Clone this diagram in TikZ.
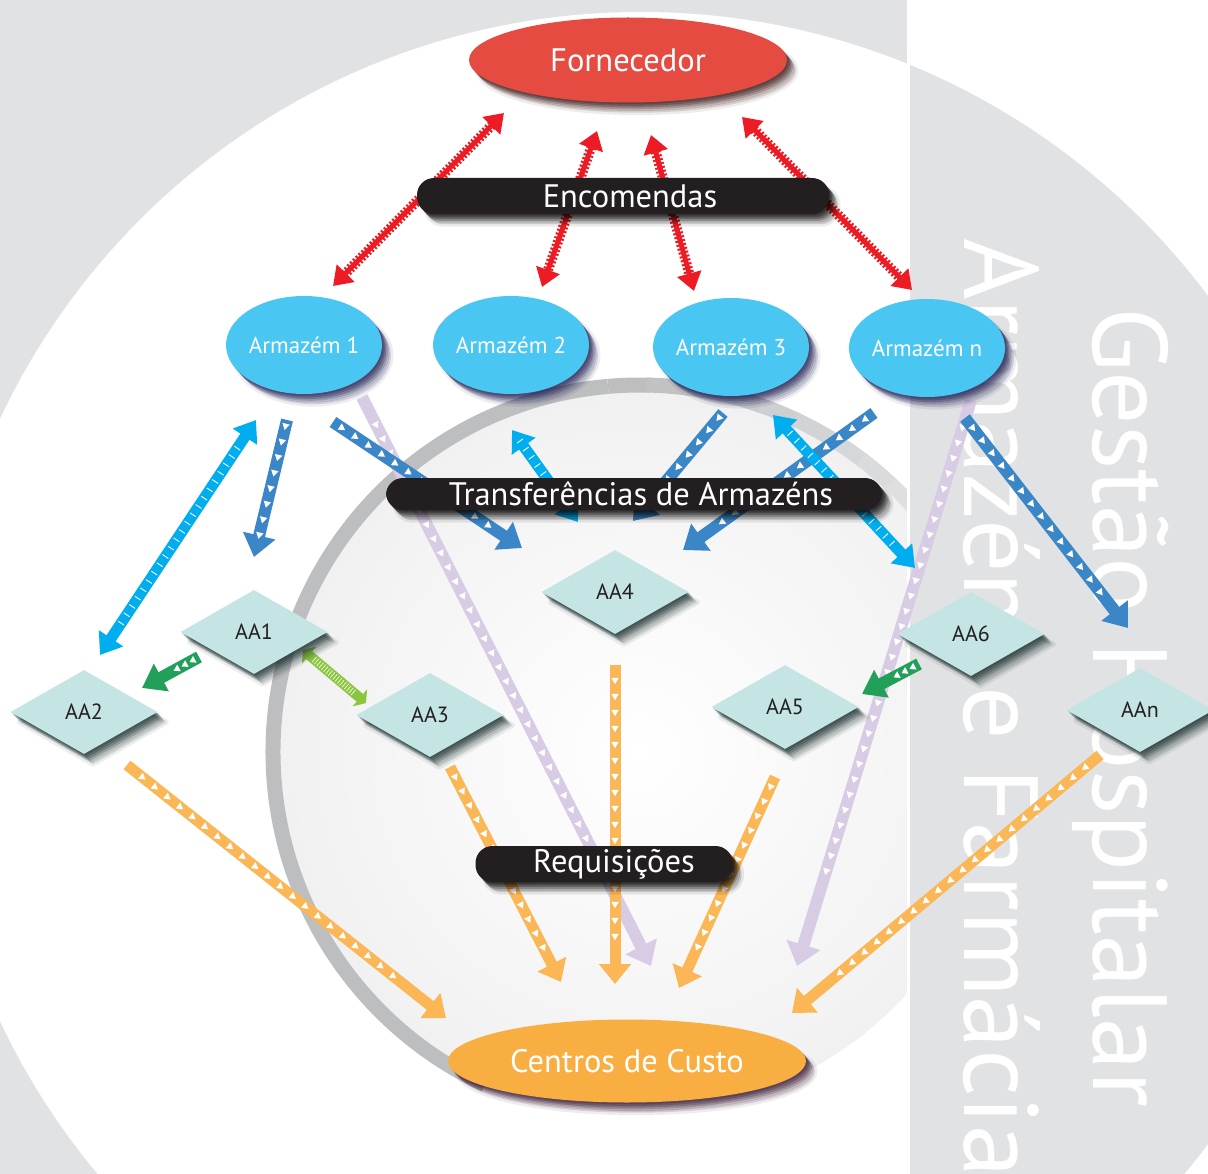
\documentclass[tikz,border=0pt]{standalone}
\usepackage{fontspec}
\setmainfont{PT Sans}
\usetikzlibrary{shapes.geometric,arrows.meta,decorations.markings}
\definecolor{bggray}{HTML}{E1E2E4}
\definecolor{fornred}{HTML}{E54B40}
\definecolor{armblue}{HTML}{4AC6F2}
\definecolor{barblack}{HTML}{231F20}
\definecolor{custoorange}{HTML}{F9AE41}
\definecolor{aateal}{HTML}{C5E5E5}
\definecolor{arrred}{HTML}{ED1C24}
\definecolor{arrcyan}{HTML}{00AEEF}
\definecolor{arrblue}{HTML}{3A86C6}
\definecolor{arrlav}{HTML}{D8CBE4}
\definecolor{arrorange}{HTML}{FBB655}
\definecolor{arrdgreen}{HTML}{21A05A}
\definecolor{arrlgreen}{HTML}{8CC63F}
\definecolor{ringgray}{HTML}{BCBEC0}
\definecolor{ringlight}{HTML}{F0F0F0}
\definecolor{innergray}{HTML}{F1F1F1}
\definecolor{navyshadow}{HTML}{1C1C50}
\definecolor{redshadow}{HTML}{361414}
\definecolor{purpleshadow}{HTML}{351630}
\definecolor{tealshadow}{HTML}{182C2C}
\tikzset{
  softshadow/.style={
    preaction={fill=#1, opacity=0.28, transform canvas={shift={(1.5pt,-1.7pt)}}},
    preaction={fill=#1, opacity=0.28, transform canvas={shift={(3pt,-3.4pt)}}},
    preaction={fill=#1, opacity=0.26, transform canvas={shift={(4.5pt,-5.1pt)}}},
    preaction={fill=#1, opacity=0.22, transform canvas={shift={(6pt,-6.8pt)}}},
    preaction={fill=#1, opacity=0.18, transform canvas={shift={(7.5pt,-8.5pt)}}},
    preaction={fill=#1, opacity=0.14, transform canvas={shift={(9pt,-10.2pt)}}},
    preaction={draw=#1, line width=5pt, line join=round, opacity=0.08, transform canvas={shift={(9pt,-10.2pt)}}}},
  softshadow/.default=black,
  fornode/.style={ellipse, fill=fornred, minimum width=318pt, minimum height=85pt, inner sep=0pt,
    text=white, font=\fontsize{32.5}{36}\selectfont, softshadow=redshadow},
  armnode/.style={ellipse, fill=armblue, minimum width=145pt, minimum height=98pt, inner sep=0pt,
    text=white, font=\fontsize{23}{26}\selectfont, softshadow=navyshadow},
  barnode/.style={rectangle, rounded corners=17pt, fill=barblack, inner sep=0pt,
    text=white, font=\fontsize{32.5}{36}\selectfont, softshadow=black},
  aanode/.style={diamond, fill=aateal, minimum width=147pt, minimum height=84pt, inner sep=0pt,
    text=barblack, font=\fontsize{22}{24}\selectfont, softshadow=tealshadow},
  custonode/.style={ellipse, fill=custoorange, minimum width=358pt, minimum height=83pt, inner sep=0pt,
    text=white, font=\fontsize{32.5}{36}\selectfont, softshadow=purpleshadow},
  bigtext/.style={text=white, font=\fontsize{105.5}{110}\selectfont, inner sep=0pt, rotate=-90, anchor=base west},
  tridecor/.style={postaction={decorate, decoration={markings,
    mark=between positions 0.05 and 0.86 step 16pt with {\fill[white] (3.2pt,0pt) -- (-3.2pt,3.8pt) -- (-3.2pt,-3.8pt) -- cycle;}}}},
  shorttri/.style={postaction={decorate, decoration={markings,
    mark=between positions 0.12 and 0.5 step 9pt with {\fill[white] (3pt,0pt) -- (-3pt,3.8pt) -- (-3pt,-3.8pt) -- cycle;}}}},
  tickdecor/.style={postaction={decorate, decoration={markings,
    mark=between positions 0.12 and 0.88 step 10pt with {\draw[white, line width=0.9pt, arrows=-] (0pt,-3.5pt) -- (0pt,3.5pt);}}}},
  hatchdecor/.style={postaction={decorate, decoration={markings,
    mark=between positions 0.18 and 0.82 step 3pt with {\draw[white, line width=0.6pt, arrows=-] (0pt,-3.5pt) -- (0pt,3.5pt);}}}},
  redarrow/.style={draw=arrred, line width=5pt,
    {Triangle[length=18pt,width=24pt]}-{Triangle[length=18pt,width=24pt]},
    postaction={draw=arrred, line width=10pt, dash pattern=on 2pt off 2pt, arrows=-, shorten <=17pt, shorten >=17pt}},
  cyanarrow/.style={draw=arrcyan, line width=11pt,
    {Triangle[length=20pt,width=28pt]}-{Triangle[length=20pt,width=28pt]}, tickdecor},
  bluearrow/.style={draw=arrblue, line width=12pt, -{Triangle[length=22pt,width=32pt]}, tridecor},
  dgreenarrow/.style={draw=arrdgreen, line width=12pt, -{Triangle[length=22pt,width=30pt]}, shorttri},
  lgreenarrow/.style={draw=arrlgreen, line width=10pt,
    {Triangle[length=8pt,width=22pt]}-{Triangle[length=8pt,width=22pt]}, hatchdecor},
  lavarrow/.style={draw=arrlav, line width=12pt, -{Triangle[length=22pt,width=34pt]}, tridecor},
  orarrow/.style={draw=arrorange, line width=11pt, -{Triangle[length=20pt,width=31pt]}, tridecor},
}
\begin{document}
\begin{tikzpicture}[x=1pt,y=-1pt]
\useasboundingbox (0,0) rectangle (1208,1174);
% background
\fill[bggray] (0,0) rectangle (1208,1174);
\fill[white] (641,720) circle (708);
% inner circle and ring (ring fades out to the right)
\shade[inner color=white, outer color=innergray] (640,752) circle (360);
\draw[ringgray, line width=15pt] (640,752) ++(-95:367) arc (-95:-245:367);
\foreach \i in {0,...,11}{
  \pgfmathsetmacro{\aa}{-95+6*\i}
  \pgfmathsetmacro{\ab}{-95+6*\i+6.6}
  \pgfmathsetmacro{\pc}{100-8.3*\i}
  \draw[ringgray!\pc!ringlight, line width=15pt] (640,752) ++(\aa:367) arc (\aa:\ab:367);
}
% right panel (inverted)
\fill[white] (908,0) rectangle (1208,1174);
\begin{scope}
  \clip (908,0) rectangle (1208,1174);
  \fill[bggray] (641,720) circle (708);
\end{scope}
\draw[white, line width=3pt] (908,0) -- (908,1174);
% vertical titles
\node[bigtext] (vt1) at (964,238) {Armazém e Farmácia};
\node[bigtext] (vt2) at (1093,307) {Gestão Hospitalar};

% connector end points
\coordinate (r1a) at (504,113); \coordinate (r1b) at (333,286);
\coordinate (r2a) at (597,131); \coordinate (r2b) at (542,287);
\coordinate (r3a) at (651,135); \coordinate (r3b) at (694,291);
\coordinate (r4a) at (742,117); \coordinate (r4b) at (912,290);
\coordinate (c1a) at (256,420); \coordinate (c1b) at (100,655);
\coordinate (c2a) at (512,430); \coordinate (c2b) at (578,522);
\coordinate (c3a) at (773,415); \coordinate (c3b) at (915,568);
\coordinate (b1a) at (287,420); \coordinate (b1b) at (254,557);
\coordinate (b2a) at (333,422); \coordinate (b2b) at (522,548);
\coordinate (b3a) at (723,413); \coordinate (b3b) at (633,521);
\coordinate (b4a) at (874,413); \coordinate (b4b) at (683,550);
\coordinate (b5a) at (965,418); \coordinate (b5b) at (1128,628);
\coordinate (g1a) at (199,657); \coordinate (g1b) at (142,688);
\coordinate (g2a) at (303,650); \coordinate (g2b) at (366,703);
\coordinate (g3a) at (919,664); \coordinate (g3b) at (862,694);
\coordinate (l1a) at (362,397); \coordinate (l1b) at (651,966);
\coordinate (l2a) at (971,400); \coordinate (l2b) at (797,966);
\coordinate (o1a) at (127,765); \coordinate (o1b) at (446,1018);
\coordinate (o2a) at (450,767); \coordinate (o2b) at (561,982);
\coordinate (o3a) at (615,665); \coordinate (o3b) at (615,984);
\coordinate (o4a) at (775,777); \coordinate (o4b) at (679,988);
\coordinate (o5a) at (1100,755); \coordinate (o5b) at (792,1013);

% arrows
\draw[lavarrow] (l1a) -- (l1b);
\draw[lavarrow] (l2a) -- (l2b);
\draw[orarrow] (o1a) -- (o1b);
\draw[orarrow] (o2a) -- (o2b);
\draw[orarrow] (o3a) -- (o3b);
\draw[orarrow] (o4a) -- (o4b);
\draw[orarrow] (o5a) -- (o5b);
\draw[redarrow] (r1a) -- (r1b);
\draw[redarrow] (r2a) -- (r2b);
\draw[redarrow] (r3a) -- (r3b);
\draw[redarrow] (r4a) -- (r4b);
\draw[cyanarrow] (c1a) -- (c1b);
\draw[cyanarrow] (c2a) -- (c2b);
\draw[bluearrow] (b1a) -- (b1b);
\draw[bluearrow] (b2a) -- (b2b);
\draw[bluearrow] (b3a) -- (b3b);
\draw[bluearrow] (b4a) -- (b4b);
\draw[cyanarrow] (c3a) -- (c3b);
\draw[bluearrow] (b5a) -- (b5b);
\draw[dgreenarrow] (g1a) -- (g1b);
\draw[lgreenarrow] (g2a) -- (g2b);
\draw[dgreenarrow] (g3a) -- (g3b);

% nodes
\node[fornode] (forn) at (628,60) {Fornecedor};
\node[armnode] (arm1) at (304,345) {Armazém 1};
\node[armnode] (arm2) at (511,345) {Armazém 2};
\node[armnode] (arm3) at (731,347) {Armazém 3};
\node[armnode] (armn) at (927,348) {Armazém n};
\node[aanode] (aa1) at (254,632) {AA1};
\node[aanode] (aa2) at (84,712) {AA2};
\node[aanode] (aa3) at (430,715) {AA3};
\node[aanode] (aa4) at (615,592) {AA4};
\node[aanode] (aa5) at (785,707) {AA5};
\node[aanode] (aa6) at (971,634) {AA6};
\node[aanode] (aan) at (1140,710) {AAn};
\node[custonode] (custo) at (627,1061) {Centros de Custo};

% labels (bars)
\node[barnode, minimum width=412pt, minimum height=36pt] (enc) at (623,196) {\hspace*{14pt}Encomendas};
\node[barnode, minimum width=496pt, minimum height=32pt] (trans) at (634,494) {\hspace*{14pt}Transferências de Armazéns};
\node[barnode, minimum width=257pt, minimum height=36pt] (req) at (604,864) {\hspace*{20pt}Requisições};
\end{tikzpicture}
\end{document}
